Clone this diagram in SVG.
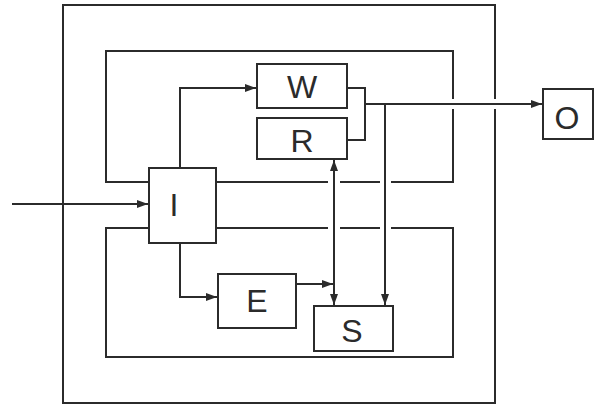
<svg xmlns="http://www.w3.org/2000/svg" width="595" height="405" viewBox="0 0 595 405">
  <defs>
    <marker id="ah" markerUnits="userSpaceOnUse" markerWidth="12" markerHeight="10" refX="11" refY="5" orient="auto-start-reverse">
      <path d="M0,1 L11,5 L0,9 Z" fill="#2b2b2b"/>
    </marker>
  </defs>
  <style>
    .ln { fill: none; stroke: #2b2b2b; stroke-width: 2; }
    .bx { fill: #ffffff; stroke: #2b2b2b; stroke-width: 2; }
    .lb { font-family: "Liberation Sans", Arial, sans-serif; font-size: 32px; fill: #2b2b2b; text-anchor: middle; }
    .cn { fill: none; stroke: #2b2b2b; stroke-width: 2; }
  </style>
  <rect width="595" height="405" fill="#ffffff"/>

  <g id="enclosures">
    <path class="ln" d="M495,99 V5 H63 V403 H495 V109"/>
    <path class="ln" d="M149,182 H106 V51 H453 V99 M453,109 V182 H391 M380,182 H340 M328,182 H216"/>
    <path class="ln" d="M149,228 H106 V357 H453 V228 H391 M380,228 H340 M328,228 H216"/>
  </g>

  <g id="connectors">
    <path class="cn" d="M12,204 H148" marker-end="url(#ah)"/>
    <path class="cn" d="M180,168 V88 H256" marker-end="url(#ah)"/>
    <path class="cn" d="M180,243 V297 H217" marker-end="url(#ah)"/>
    <path class="cn" d="M347,88 H365 V140 H347"/>
    <path class="cn" d="M365,104 H542" marker-end="url(#ah)"/>
    <path class="cn" d="M385,104 V305" marker-end="url(#ah)"/>
    <path class="cn" d="M334,160 V305" marker-start="url(#ah)" marker-end="url(#ah)"/>
    <path class="cn" d="M296,284 H333" marker-end="url(#ah)"/>
  </g>

  <g id="node-I">
    <rect class="bx" x="149" y="168" width="67" height="75"/>
    <text class="lb" x="174" y="216">I</text>
  </g>
  <g id="node-W">
    <rect class="bx" x="257" y="64" width="90" height="44"/>
    <text class="lb" x="302" y="98">W</text>
  </g>
  <g id="node-R">
    <rect class="bx" x="257" y="118" width="90" height="41"/>
    <text class="lb" x="302" y="152">R</text>
  </g>
  <g id="node-E">
    <rect class="bx" x="218" y="274" width="78" height="54"/>
    <text class="lb" x="257" y="312">E</text>
  </g>
  <g id="node-S">
    <rect class="bx" x="314" y="306" width="79" height="45"/>
    <text class="lb" x="352" y="342">S</text>
  </g>
  <g id="node-O">
    <rect class="bx" x="543" y="89" width="50" height="50"/>
    <text class="lb" x="567" y="129">O</text>
  </g>
</svg>
